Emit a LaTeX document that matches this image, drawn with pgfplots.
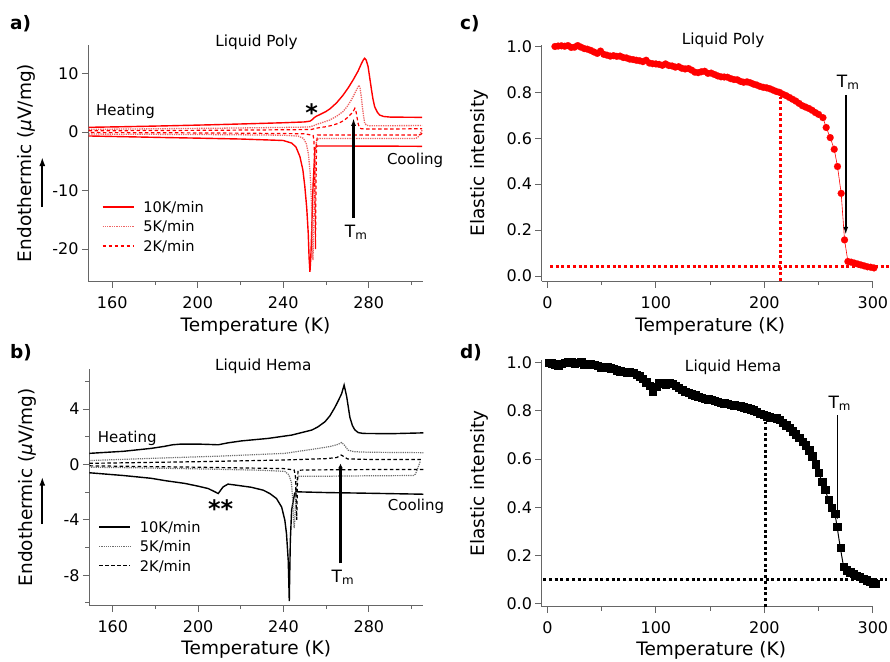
\documentclass[border=0pt]{standalone}
\usepackage{pgfplots}
\pgfplotsset{compat=1.18}
\usepackage{fontspec}
\setmainfont{DejaVu Sans}
\usetikzlibrary{arrows.meta}
\definecolor{pinkred}{RGB}{238,100,100}
\definecolor{dgray}{RGB}{110,110,110}
\pgfplotsset{
  base/.style={
    scale only axis, clip=false,
    axis x line*=bottom, axis y line*=left,
    axis line style={draw=black!60, line width=0.9bp},
    tick align=outside,
    major tick length=6.5bp, minor tick length=4bp,
    every tick/.style={draw=black!60, line width=0.9bp},
    tick label style={font=\fontsize{16bp}{19bp}\selectfont},
    xticklabel style={inner sep=0pt, anchor=center, yshift=-15bp},
    yticklabel style={inner sep=0pt, anchor=east, xshift=-3bp},
    label style={font=\fontsize{18.5bp}{22bp}\selectfont, inner sep=0pt},
    xlabel style={at={(axis description cs:0.5,-0.216)}, anchor=base},
    ylabel style={at={(axis description cs:-0.185,0.5)}, anchor=center},
    legend cell align=left,
    legend image code/.code={\draw[##1] (0bp,0bp) -- (31bp,0bp);},
    legend style={draw=none, fill=none, inner sep=0pt, column sep=9bp, row sep=8.8bp,
      font=\fontsize{14.6bp}{17bp}\selectfont,
      nodes={inner sep=0pt, text height=10.7bp, text depth=0pt}},
  },
  dscx/.style={xmin=148.8, xmax=305.3, width=334.5bp,
    xtick={160,200,240,280}, xticklabels={160,200,240,280},
    minor xtick={180,220,260,300}, xlabel={Temperature (K)},
    ylabel={Endothermic ({\itshape μ}V/mg)}},
  elx/.style={xmin=-5.2, xmax=300.5, width=331.7bp,
    xtick={0,100,200,300}, xticklabels={0,100,200,300},
    minor xtick={50,150,250}, xlabel={Temperature (K)},
    ytick={0,0.2,0.4,0.6,0.8,1.0}, yticklabels={0.0,0.2,0.4,0.6,0.8,1.0},
    ylabel={Elastic intensity},
    xlabel style={at={(axis description cs:0.508,-0.214)}},
    ylabel style={at={(axis description cs:-0.188,0.5)}}},
}
\newcommand{\ann}{\fontsize{15bp}{18bp}\selectfont}
\newcommand{\ttl}{\fontsize{15.3bp}{18bp}\selectfont}
\newcommand{\tmf}{\fontsize{17bp}{20bp}\selectfont}
\begin{document}
\begin{tikzpicture}
\path[use as bounding box] (0,0) rectangle (890bp,-662bp);
% ---------------- panel a ----------------
\begin{axis}[base, dscx, at={(88.3bp,-281bp)}, anchor=south west,
  height=236bp, ymin=-25.47, ymax=14.87,
  ytick={-20,-10,0,10}, yticklabels={-20,-10,0,10},
  legend style={at={(axis description cs:0.040,0.3375)}, anchor=north west}]
\addplot[red, line width=1.4bp] coordinates {(149,0.80) (165,0.90) (185,1.05) (205,1.22) (225,1.42) (240,1.58) (250,1.72) (252.5,1.85) (253.5,2.1) (254.5,2.45) (255.5,2.7) (257,2.95) (260,3.5) (262,4.0) (265,5.0) (268,6.3) (270.5,7.6) (272.7,8.9) (275,10.4) (276.6,11.7) (277.6,12.4) (278.1,12.6) (278.8,12.3) (279.7,11.2) (280.5,9.2) (281.3,7.2) (282,5.6) (282.8,4.3) (284,3.4) (285.1,2.9) (287,2.65) (290,2.55) (305,2.5)};
\addplot[pinkred, line width=1.3bp, densely dotted] coordinates {(149,0.45) (180,0.55) (210,0.65) (240,0.78) (252,0.85) (254,1.05) (256,1.35) (259,1.7) (261.8,2.05) (265,2.7) (268,3.5) (270,4.4) (271.9,5.5) (273.2,6.4) (274.3,7.2) (275,7.7) (275.5,8.0) (276,7.4) (276.6,5.8) (277,4.4) (277.4,3.2) (278.1,1.5) (279,1.15) (280.5,1.05) (290,1.08) (305,1.1)};
\addplot[red, line width=1.2bp, dash pattern=on 3.5bp off 2.5bp] coordinates {(149,0.2) (180,0.25) (210,0.3) (240,0.38) (253,0.42) (255,0.6) (257,0.75) (260,0.9) (263,1.15) (266,1.5) (268.5,2.0) (270.5,2.6) (272,3.2) (273,3.7) (273.5,4.05) (274,3.6) (274.5,2.6) (275,1.5) (275.6,0.8) (276.5,0.55) (280,0.5) (305,0.55)};
\legend{10K/min,5K/min,2K/min}
\addplot[red, line width=1.4bp, forget plot] coordinates {(305,-2.45) (290,-2.42) (270,-2.4) (256,-2.4) (255.2,-2.6) (254.8,-3.2) (254.4,-6) (254,-8.8) (253.6,-13) (253.3,-17.3) (252.9,-21.5) (252.5,-23.9) (252.1,-21.5) (251.7,-17.3) (251,-13) (250.1,-9.3) (249.2,-6.5) (247.8,-4.2) (246,-2.6) (244,-1.9) (240,-1.45) (220,-1.2) (200,-1.05) (185,-0.95) (165,-0.8) (149,-0.68)};
\addplot[pinkred, line width=1.3bp, densely dotted, forget plot] coordinates {(305,0.3) (304,-0.3) (303,-0.9) (302,-1.1) (290,-1.1) (270,-1.1) (257,-1.1) (255.6,-1.3) (255,-4) (254.6,-10) (254.2,-17) (253.9,-21.9) (253.6,-18) (253.2,-12) (252.6,-7) (251.8,-3.8) (250.8,-2) (249.5,-1.1) (247,-0.7) (240,-0.55) (210,-0.45) (180,-0.4) (149,-0.35)};
\addplot[red, line width=1.2bp, dash pattern=on 3.5bp off 2.5bp, forget plot] coordinates {(305,-0.2) (304.3,-0.45) (303,-0.5) (280,-0.5) (260,-0.5) (256,-0.5) (255.6,-2) (255.3,-10) (255.1,-20) (254.9,-14) (254.7,-6) (254.4,-1.5) (254,-0.6) (250,-0.3) (220,-0.2) (180,-0.12) (149,-0.1)};
\node[font=\ttl] at (axis description cs:0.503,1.0106) {Liquid Poly};
\node[font=\ann] at (axis cs:166.2,3.5) {Heating};
\node[font=\ann] at (axis cs:301.7,-4.9) {Cooling};
\node[font=\fontsize{24bp}{26bp}\selectfont\bfseries, anchor=base, inner sep=0pt] at (axis cs:253.25,1.83) {*};
\draw[line width=2.2bp, -{Latex[length=8bp,width=5bp]}] (axis cs:272.9,-14.7) -- (axis cs:272.9,2.4);
\node[font=\tmf, anchor=base west, inner sep=0pt] at (axis cs:268.8,-18) {T\textsubscript{m}};
\end{axis}
% ---------------- panel b ----------------
\begin{axis}[base, dscx, at={(89.3bp,-605bp)}, anchor=south west,
  xmin=149, xmax=305.5, width=334bp,
  height=235.7bp, ymin=-10.15, ymax=6.87,
  ytick={-8,-4,0,4}, yticklabels={-8,-4,0,4}, minor ytick={-10,-6,-2,2,6},
  xlabel style={at={(axis description cs:0.5,-0.212)}},
  legend style={at={(axis description cs:0.027,0.355)}, anchor=north west}]
\addplot[black, line width=1.4bp] coordinates {(149,0.8) (165,0.95) (178,1.16) (184,1.3) (188,1.42) (192,1.47) (200,1.47) (206,1.44) (209.4,1.42) (212,1.5) (214,1.56) (220.3,1.7) (232.8,1.88) (243.8,2.12) (253.2,2.48) (256,2.7) (259.4,3.08) (261.7,3.5) (264,4.1) (265.5,4.55) (267.2,5.1) (268.4,5.73) (269.6,4.9) (271.1,3.4) (272.3,2.8) (273.4,2.5) (275,2.3) (277.3,2.24) (290,2.22) (305.5,2.28)};
\addplot[dgray, line width=1.2bp, densely dotted] coordinates {(149,0.28) (180,0.45) (210,0.6) (240.6,0.8) (256,1.15) (262,1.3) (265.5,1.45) (267.2,1.58) (268.5,1.4) (270.3,1.03) (273,0.92) (280,0.88) (305.5,0.85)};
\addplot[black, line width=1.2bp, dash pattern=on 3.5bp off 2.5bp] coordinates {(149,0.08) (200,0.2) (240,0.32) (260,0.42) (265,0.5) (267,0.68) (268.5,0.55) (270,0.4) (280,0.36) (305.5,0.36)};
\legend{10K/min,5K/min,2K/min}
\addplot[black, line width=1.4bp, forget plot] coordinates {(305.5,-2.15) (280,-2.08) (260,-2.03) (247,-1.98) (246.1,-1.92) (245.2,-2.1) (243.8,-3.3) (243.2,-5.5) (242.9,-8) (242.7,-9.86) (242.4,-8) (242.2,-6.9) (241.4,-5.0) (240.6,-4.0) (239.1,-3.07) (236.7,-2.46) (233.6,-2.1) (230.5,-1.86) (225,-1.65) (218,-1.5) (214,-1.42) (211.7,-1.62) (209.4,-2.1) (207.5,-1.95) (204.7,-1.74) (200,-1.57) (193.8,-1.37) (185,-1.18) (178,-1.0) (165,-0.8) (149,-0.6)};
\addplot[dgray, line width=1.2bp, densely dotted, forget plot] coordinates {(304,0.2) (303.1,-0.2) (301.8,-0.7) (300.8,-0.8) (280,-0.82) (260,-0.85) (247,-0.85) (246.4,-0.95) (245.8,-2) (245.3,-4.0) (245,-4.6) (244.7,-4.0) (244.3,-2.5) (243.7,-1.3) (242.5,-0.75) (240.6,-0.5) (230,-0.42) (200,-0.32) (170,-0.24) (149,-0.2)};
\addplot[black, line width=1.2bp, dash pattern=on 3.5bp off 2.5bp, forget plot] coordinates {(305.5,-0.36) (280,-0.37) (250,-0.4) (246.8,-0.42) (246.5,-1.5) (246.2,-4.0) (245.9,-2.5) (245.6,-0.9) (245,-0.4) (240,-0.3) (200,-0.2) (149,-0.1)};
\node[font=\ttl] at (axis description cs:0.521,1.0148) {Liquid Hema};
\node[font=\ann] at (axis cs:166.8,1.88) {Heating};
\node[font=\ann] at (axis cs:302.1,-3.02) {Cooling};
\node[font=\fontsize{24bp}{26bp}\selectfont\bfseries, anchor=base, inner sep=0pt] at (axis cs:210.5,-3.83) {**};
\draw[line width=2.4bp, -{Latex[length=5bp,width=5bp]}] (axis cs:266.7,-7.14) -- (axis cs:266.7,0.07);
\node[font=\tmf, anchor=base west, inner sep=0pt] at (axis cs:262.5,-8.49) {T\textsubscript{m}};
\end{axis}
% ---------------- panel c ----------------
\begin{axis}[base, elx, at={(541.7bp,-281bp)}, anchor=south west,
  height=236bp, ymin=-0.022, ymax=1.0065]
\addplot[red, line width=0.6bp, mark=*, mark size=3.5bp, mark options={fill=red, draw=red, line width=0.1bp}] coordinates {
(7,1.000) (10,1.002) (13,1.003) (16,1.001) (19,1.004) (22,0.996) (25,0.997) (28,1.004) (31,0.997) (34,0.991)
(37,0.988) (40,0.983) (43,0.976) (46,0.970) (49,0.980) (52,0.966) (55,0.962) (58,0.958) (61,0.960) (64,0.957)
(67,0.958) (70,0.952) (73,0.950) (76,0.945) (79,0.943) (82,0.940) (85,0.938) (88,0.934) (91,0.940) (94,0.928)
(97,0.925) (100,0.924) (103,0.922) (106,0.918) (109,0.924) (112,0.917) (115,0.915) (118,0.910) (121,0.912) (124,0.905)
(127,0.902) (130,0.904) (133,0.897) (136,0.888) (139,0.886) (142,0.890) (145,0.892) (148,0.883) (151,0.884) (154,0.878)
(157,0.872) (160,0.868) (163,0.867) (166,0.866) (169,0.860) (172,0.856) (175,0.855) (178,0.848) (181,0.844) (184,0.846)
(187,0.842) (190,0.836) (193,0.832) (196,0.826) (199,0.822) (202,0.820) (205,0.816) (208,0.810) (211,0.804) (214,0.800)
(217,0.792) (220,0.786) (223,0.778) (226,0.770) (229,0.762) (232,0.752) (235,0.742) (238,0.736) (241,0.730) (244,0.722)
(247,0.712) (250,0.704) (254,0.690) (257,0.647) (260.7,0.603) (264.4,0.552) (267.4,0.477) (270.8,0.360) (273.9,0.157) (277,0.063)
(280,0.060) (283,0.056) (286,0.052) (289,0.048) (292,0.044) (295,0.040) (298,0.038) (301,0.035)};
\addplot[red, line width=3bp, dash pattern=on 3bp off 2.7bp, forget plot] coordinates {(215,-0.022) (215,0.782)};
\addplot[red, line width=3bp, dash pattern=on 3bp off 2.7bp, forget plot] coordinates {(2.5,0.041) (316,0.041)};
\node[font=\ttl] at (axis description cs:0.547,1.021) {Liquid Poly};
\draw[line width=2.2bp, -{Latex[length=8bp,width=5bp]}] (axis cs:275,0.789) -- (axis cs:275,0.179);
\node[font=\tmf, anchor=base west, inner sep=0pt] at (axis cs:266.7,0.822) {T\textsubscript{m}};
\end{axis}
% ---------------- panel d ----------------
\begin{axis}[base, elx, at={(541.7bp,-606.6bp)}, anchor=south west,
  height=246.3bp, ymin=-0.012, ymax=1.01,
  xlabel style={at={(axis description cs:0.511,-0.197)}}]
\addplot[black, line width=1bp, mark=square*, mark size=3.7bp, mark options={fill=black, draw=black, line width=0.1bp}] coordinates {
(1,1.000) (4,0.998) (7,0.995) (10,0.990) (13,0.996) (16,1.000) (19,1.003) (22,1.002) (25,0.998) (28,1.000)
(31,1.003) (34,0.995) (37,0.992) (40,0.996) (43,0.993) (46,0.988) (49,0.982) (52,0.980) (55,0.982) (58,0.978)
(61,0.976) (64,0.970) (67,0.966) (70,0.964) (73,0.962) (76,0.962) (79,0.958) (82,0.952) (85,0.945) (88,0.935)
(91,0.920) (94,0.905) (97,0.882) (100,0.900) (103,0.918) (106,0.915) (109,0.910) (112,0.916) (115,0.914) (118,0.905)
(121,0.896) (124,0.888) (127,0.880) (130,0.876) (133,0.870) (136,0.866) (139,0.860) (142,0.856) (145,0.852) (148,0.850)
(151,0.846) (154,0.842) (157,0.838) (160,0.834) (163,0.832) (166,0.830) (169,0.826) (172,0.824) (175,0.822) (178,0.820)
(181,0.816) (184,0.812) (187,0.808) (190,0.803) (193,0.797) (196,0.790) (199,0.784) (202,0.778) (205,0.774) (208,0.772)
(211,0.770) (214,0.764) (217,0.752) (220,0.742) (223,0.730) (226,0.716) (229,0.704) (232,0.690) (235,0.674) (238,0.658)
(241,0.638) (244,0.612) (247,0.580) (250,0.545) (253,0.508) (256,0.474) (259,0.432) (262,0.400) (265,0.375) (267,0.320)
(270,0.232) (273,0.154) (276,0.140) (279,0.132) (282,0.125) (285,0.118) (288,0.112) (291,0.105) (294,0.098) (297,0.092)
(300,0.086) (302,0.084)};
\addplot[black, line width=3bp, dash pattern=on 3bp off 2.7bp, forget plot] coordinates {(200.6,-0.012) (200.6,0.755)};
\addplot[black, line width=3bp, dash pattern=on 3bp off 2.7bp, forget plot] coordinates {(-3.7,0.101) (313,0.101)};
\node[font=\ttl] at (axis description cs:0.577,0.970) {Liquid Hema};
\draw[line width=1.6bp, -{Latex[length=7bp,width=5bp]}] (axis cs:267.3,0.783) -- (axis cs:267.3,0.347);
\node[font=\tmf, anchor=base west, inner sep=0pt] at (axis cs:259,0.811) {T\textsubscript{m}};
\end{axis}
% panel labels and y-label arrows
\node[font=\fontsize{18.5bp}{22bp}\selectfont\bfseries, anchor=west, inner sep=0pt] at (10bp,-23.8bp) {a)};
\node[font=\fontsize{18.5bp}{22bp}\selectfont\bfseries, anchor=west, inner sep=0pt] at (10bp,-352.5bp) {b)};
\node[font=\fontsize{18.5bp}{22bp}\selectfont\bfseries, anchor=west, inner sep=0pt] at (460bp,-24bp) {c)};
\node[font=\fontsize{18.5bp}{22bp}\selectfont\bfseries, anchor=west, inner sep=0pt] at (460bp,-352.5bp) {d)};
\draw[line width=2bp, -{Latex[length=9bp,width=6bp]}] (42.3bp,-207bp) -- (42.3bp,-157bp);
\draw[line width=2bp, -{Latex[length=9bp,width=6bp]}] (42.3bp,-524bp) -- (42.3bp,-476.7bp);
\end{tikzpicture}
\end{document}
